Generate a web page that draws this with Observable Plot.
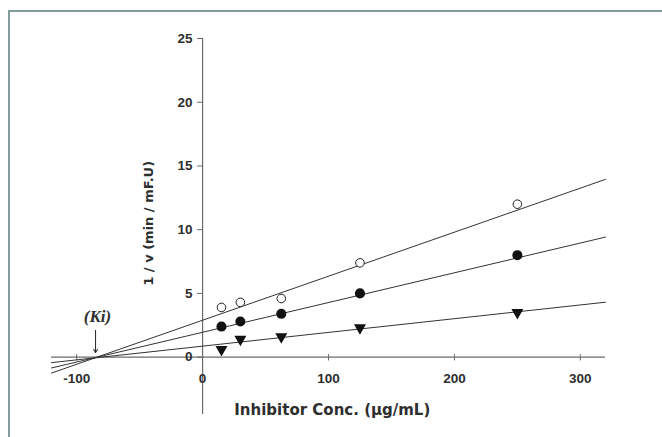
<!DOCTYPE html>
<html><head><meta charset="utf-8">
<script src="https://cdn.jsdelivr.net/npm/d3@7"></script>
<script src="https://cdn.jsdelivr.net/npm/@observablehq/plot@0.6"></script>
<style>
body{margin:0;background:#fff;}
#wrap{position:relative;width:662px;height:437px;overflow:hidden;background:#fff;}
#border{position:absolute;left:8px;top:10px;width:700px;height:500px;border-left:2px solid #809c9b;border-top:2px solid #809c9b;}
#chart{position:absolute;left:0;top:0;}
</style></head><body>
<div id="wrap"><div id="border"></div><div id="chart"></div></div>
<script>
// Data
const conc = [15, 30, 62.5, 125, 250];
const openCircle = [3.9, 4.3, 4.6, 7.4, 12.0];
const filledCircle = [2.4, 2.8, 3.4, 5.0, 8.0];
const triangle = [0.6, 1.4, 1.6, 2.3, 3.5];
const lineX = [-120, 320];
const line1 = [-1.25, 13.95];
const line2 = [-0.85, 9.42];
const line3 = [-0.43, 4.31];
const xTicks = [-100, 0, 100, 200, 300];
const yTicks = [0, 5, 10, 15, 20, 25];
const ki = -85;

const pts = (ys) => conc.map((x, i) => ({x, y: ys[i]}));
const lines = [line1, line2, line3].flatMap((ys, k) => lineX.map((x, i) => ({k, x, y: ys[i]})));

const font = "'Liberation Sans', Arial, sans-serif";
const titleFont = "'DejaVu Sans', 'Liberation Sans', sans-serif";
const axisColor = "#6b6b6b";
const textColor = "#2e2e2e";

const chart = Plot.plot({
  width: 662, height: 437,
  marginLeft: 51, marginRight: 57, marginTop: 38, marginBottom: 23,
  x: {domain: [-120, 320], axis: null},
  y: {domain: [-4.5, 25], axis: null},
  style: {background: "transparent", fontFamily: font},
  marks: [
    // axes crossing at the origin
    Plot.ruleY([0], {x1: -120, x2: 320, stroke: axisColor, strokeWidth: 1.2}),
    Plot.ruleX([0], {y1: -4.5, y2: 25, stroke: axisColor, strokeWidth: 1.2}),
    Plot.ruleX(xTicks.filter(d => d !== 0), {x: d => d, y1: -0.3, y2: 0.2, stroke: axisColor}),
    Plot.ruleY(yTicks, {y: d => d, x1: -4, x2: 0, stroke: axisColor}),
    Plot.text(xTicks, {x: d => d, y: 0, dy: 22, text: d => String(d), fontSize: 13.5, fontWeight: "bold", fill: textColor}),
    Plot.text(yTicks, {x: 0, y: d => d, dx: -10, text: d => String(d), textAnchor: "end", fontSize: 13.5, fontWeight: "bold", fill: textColor}),
    // fitted lines
    Plot.line(lines, {x: "x", y: "y", z: "k", stroke: "#333", strokeWidth: 1}),
    // data points
    Plot.dot(pts(openCircle), {x: "x", y: "y", r: 4.3, stroke: "#222", strokeWidth: 1, fill: "white"}),
    Plot.dot(pts(filledCircle), {x: "x", y: "y", r: 4.3, fill: "#111", stroke: "#111"}),
    Plot.dot(pts(triangle), {x: "x", y: "y", symbol: "triangle", r: 3.5, rotate: 180, fill: "#111", stroke: "#111"}),
    // Ki annotation
    Plot.arrow([ki], {x1: d => d, x2: d => d, y1: 2.1, y2: 0.35, stroke: "#222", strokeWidth: 1, headLength: 6}),
    Plot.text(["(Ki)"], {x: ki + 1.5, y: 3.2, text: d => d, fontSize: 17, fontWeight: "bold", fontStyle: "italic", fontFamily: "'Liberation Serif', 'Times New Roman', serif", fill: textColor}),
    // axis titles
    Plot.text(["Inhibitor Conc. (µg/mL)"], {x: 103, y: -4.2, text: d => d, fontSize: 15, fontWeight: "bold", fontFamily: titleFont, fill: textColor}),
    Plot.text(["1 / v (min / mF.U)"], {x: -43, y: 10.5, text: d => d, rotate: -90, fontSize: 13, fontWeight: "bold", fontFamily: titleFont, fill: textColor})
  ]
});
document.getElementById("chart").appendChild(chart);
</script>
</body></html>
